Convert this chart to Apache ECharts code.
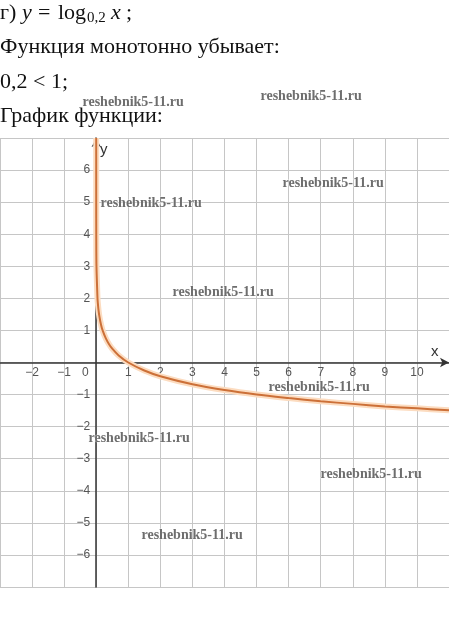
<!DOCTYPE html>
<html>
<head>
<meta charset="utf-8">
<script src="https://cdn.jsdelivr.net/npm/echarts@6/dist/echarts.min.js"></script>
<style>
html,body{margin:0;padding:0;background:#fff;}
#chart{width:449px;height:620px;}
</style>
</head>
<body>
<div id="chart"></div>
<script>
const curveX = [0.0000128, 0.000064, 0.00032, 0.0016, 0.008, 0.04, 0.05, 0.07, 0.1, 0.15, 0.2, 0.3, 0.4, 0.5, 0.7, 1, 1.5, 2, 3, 4, 5, 6, 7, 8, 9, 10, 11];
const curveY = [7, 6, 5, 4, 3, 2, 1.86, 1.65, 1.43, 1.18, 1, 0.75, 0.57, 0.43, 0.22, 0, -0.25, -0.43, -0.68, -0.86, -1, -1.11, -1.21, -1.29, -1.37, -1.43, -1.49];
const xRange = [-3, 11];
const yRange = [-7, 7];
const headerLines = ['Функция монотонно убывает:', '0,2 < 1;', 'График функции:'];
const watermark = 'reshebnik5-11.ru';

const points = curveX.map((x, i) => [x, curveY[i]]);
const minus = v => String(v).replace('-', '\u2212');

const W = 449, GRID_TOP = 138, GRID_H = 449;
const chart = echarts.init(document.getElementById('chart'), null, {renderer: 'canvas'});

const serif = '"Liberation Serif", "DejaVu Serif", serif';
const bodyStyle = (text, x, y, extra) => ({
  type: 'text', left: x, top: y, z: 100,
  style: Object.assign({text: text, fill: '#111', font: '22px ' + serif}, extra || {})
});

const wmPos = [[82, 95], [260, 89], [282, 176], [100, 196], [172, 285], [268, 380], [88, 431], [320, 467], [141, 528]];

const graphics = [
  bodyStyle('г)', 0, 2),
  bodyStyle('y', 22, 2, {font: 'italic 22px ' + serif}),
  bodyStyle('=', 38, 2),
  bodyStyle('log', 58, 2),
  bodyStyle('0,2', 87, 11, {font: '15px ' + serif}),
  bodyStyle('x', 111, 2, {font: 'italic 22px ' + serif}),
  bodyStyle(';', 126, 2),
  bodyStyle(headerLines[0], 0, 36),
  bodyStyle(headerLines[1], 0, 71),
  bodyStyle(headerLines[2], 0, 105),
  {type: 'text', left: 100, top: 142, z: 100, style: {text: 'y', fill: '#333', font: '15px "Liberation Sans", sans-serif'}},
  {type: 'text', left: 431, top: 344, z: 100, style: {text: 'x', fill: '#333', font: '15px "Liberation Sans", sans-serif'}}
];
wmPos.forEach(p => graphics.push({
  type: 'text', left: p[0], top: p[1], z: 110,
  style: {text: watermark, fill: '#6e6e6e', font: 'bold 14px ' + serif, stroke: 'rgba(255,255,255,0.6)', lineWidth: 1}
}));

// pixel offsets that put each axis (with its labels) on the other axis's zero
const xAxisOffset = -GRID_H * (0 - yRange[0]) / (yRange[1] - yRange[0]);
const yAxisOffset = -W * (0 - xRange[0]) / (xRange[1] - xRange[0]);

chart.setOption({
  animation: false,
  backgroundColor: '#fff',
  grid: {left: 0, right: 0, top: GRID_TOP, height: GRID_H, containLabel: false, outerBoundsMode: 'none'},
  xAxis: {
    type: 'value', min: xRange[0], max: xRange[1], interval: 1,
    position: 'bottom', offset: xAxisOffset,
    axisLine: {onZero: false, symbol: ['none', 'arrow'], symbolSize: [7, 9], lineStyle: {color: '#333', width: 1.5}},
    axisTick: {show: false},
    splitLine: {show: true, lineStyle: {color: '#c6c6c6', width: 1}},
    axisLabel: {
      showMinLabel: false, showMaxLabel: false, margin: 4, color: '#555', fontSize: 12,
      fontFamily: '"Liberation Sans", Arial, sans-serif',
      formatter: v => v === 0 ? '{z|0}' : minus(v),
      rich: {z: {padding: [0, 22, 0, 0], color: '#555', fontSize: 12}}
    }
  },
  yAxis: {
    type: 'value', min: yRange[0], max: yRange[1], interval: 1,
    position: 'left', offset: yAxisOffset,
    axisLine: {onZero: false, symbol: ['none', 'arrow'], symbolSize: [7, 9], lineStyle: {color: '#333', width: 1.5}},
    axisTick: {show: false},
    splitLine: {show: true, lineStyle: {color: '#c6c6c6', width: 1}},
    axisLabel: {
      showMinLabel: false, showMaxLabel: false, margin: 6, color: '#555', fontSize: 12,
      fontFamily: '"Liberation Sans", Arial, sans-serif',
      formatter: v => v === 0 ? '' : minus(v)
    }
  },
  series: [
    {type: 'line', data: points, showSymbol: false, smooth: 0.3, z: 3,
     lineStyle: {color: '#fcdcc0', width: 6}, silent: true},
    {type: 'line', data: points, showSymbol: false, smooth: 0.3, z: 4,
     lineStyle: {color: '#cc7038', width: 2}, silent: true}
  ],
  graphic: graphics
});
</script>
</body>
</html>
